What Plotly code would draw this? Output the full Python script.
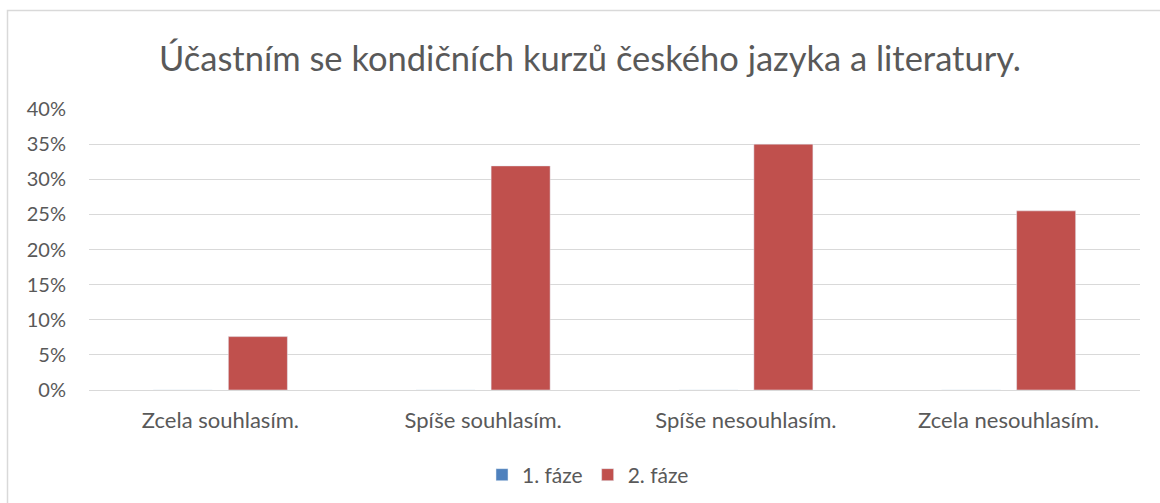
import plotly.graph_objects as go

categories = ["Zcela souhlasím.", "Spíše souhlasím.", "Spíše nesouhlasím.", "Zcela nesouhlasím."]
faze1 = [0, 0, 0, 0]
faze2 = [0.076, 0.319, 0.35, 0.255]
tick_vals = [0, 0.05, 0.10, 0.15, 0.20, 0.25, 0.30, 0.35, 0.40]
tick_text = ["0%", "5%", "10%", "15%", "20%", "25%", "30%", "35%", "40%"]
title_text = "Účastním se kondičních kurzů českého jazyka a literatury."

FONT = "Lato"
GREY = "#595959"

fig = go.Figure()
fig.add_bar(x=categories, y=faze1, name="1. fáze", marker=dict(color="#4F81BD"))
fig.add_bar(x=categories, y=faze2, name="2. fáze", marker=dict(color="#C0504D"))

# plot area: x 89..1140, y 109..390
L, R, T, B = 89, 1160 - 1140, 109, 503 - 390
pw, ph = 1160 - L - R, 503 - T - B

def px_x(x):
    return (x - L) / pw

def px_y(y):
    return (503 - B - y) / ph

fig.update_layout(
    width=1160, height=503,
    margin=dict(l=L, r=R, t=T, b=B, autoexpand=False),
    paper_bgcolor="white", plot_bgcolor="white",
    barmode="group", bargap=0.429, bargroupgap=0.213,
    title=dict(text=title_text, x=590 / 1160, xanchor="center", xref="container",
               y=1 - 59 / 503, yanchor="middle", yref="container",
               font=dict(family=FONT, size=34.5, color=GREY)),
    font=dict(family=FONT, color=GREY, size=20),
    showlegend=True,
    legend=dict(orientation="h", x=px_x(588), xanchor="center", y=px_y(475), yanchor="middle",
                font=dict(family=FONT, size=21, color=GREY), itemwidth=30),
    xaxis=dict(showgrid=False, showline=True, linecolor="#D9D9D9", linewidth=1,
               ticks="", tickfont=dict(size=22, color=GREY), ticklabelstandoff=11,
               fixedrange=True),
    yaxis=dict(range=[0, 0.40], tickvals=tick_vals, ticktext=tick_text,
               showgrid=True, gridcolor="#D9D9D9", gridwidth=1, zeroline=False,
               showline=False, ticks="", tickfont=dict(size=20, color=GREY),
               ticklabelstandoff=22, fixedrange=True),
    shapes=[dict(type="rect", xref="paper", yref="paper",
                 x0=px_x(7.5), x1=px_x(1170), y0=px_y(515), y1=px_y(10.5),
                 line=dict(color="#D9D9D9", width=1.5), fillcolor="rgba(0,0,0,0)", layer="below")],
)

fig.write_html("out.html", config={"displayModeBar": False},
               post_script="document.body.style.margin='0';document.body.style.padding='0';")
